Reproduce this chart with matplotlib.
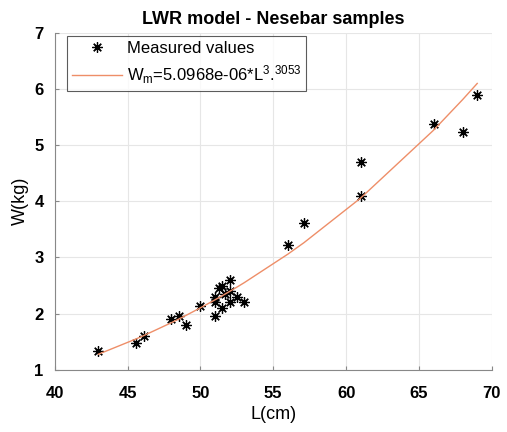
import numpy as np
import matplotlib
matplotlib.use('Agg')
import matplotlib.pyplot as plt

plt.rcParams['font.family'] = ['Liberation Sans', 'DejaVu Sans']
plt.rcParams['mathtext.default'] = 'regular'

length_cm = [43.0, 45.6, 46.1, 48.0, 48.5, 49.0, 50.0, 51.0, 51.0, 51.0,
             51.3, 51.5, 51.5, 51.7, 52.0, 52.0, 52.0, 52.5, 53.0,
             56.0, 57.1, 61.0, 61.0, 66.0, 68.0, 69.0]
weight_kg = [1.33, 1.48, 1.60, 1.90, 1.95, 1.79, 2.13, 1.95, 2.30, 2.20,
             2.45, 2.10, 2.50, 2.35, 2.60, 2.40, 2.20, 2.30, 2.20,
             3.22, 3.61, 4.10, 4.70, 5.38, 5.23, 5.90]

# Fitted model coefficients W = a * L^b
coef_a = 5.0968e-06
coef_b = 3.3053

L_fit = np.array(sorted(set(length_cm)))
W_fit = coef_a * L_fit ** coef_b

fig = plt.figure(figsize=(5.07, 4.32), dpi=100)
ax = fig.add_axes([0.108, 0.144, 0.862, 0.780])

# asterisk marker like MATLAB '*'
ax.plot(length_cm, weight_kg, linestyle='none', marker=(8, 2, 0), color='black',
        markersize=7.5, markeredgewidth=0.9, label='Measured values')
ax.plot(L_fit, W_fit, color='#EE8E68', linewidth=1.0,
        label='W$_m$=5.0968e-06*L$^{3}$.$^{3053}$')

ax.set_xlim(40, 70)
ax.set_ylim(1, 7)
ax.set_xticks(range(40, 71, 5))
ax.set_yticks(range(1, 8))

ax.grid(True, color='#e6e6e6', linewidth=0.8)
ax.set_axisbelow(True)
for side in ['top', 'right']:
    ax.spines[side].set_visible(False)
for side in ['left', 'bottom']:
    ax.spines[side].set_color('#888888')
    ax.spines[side].set_linewidth(0.8)
ax.tick_params(direction='in', length=3, color='#888888', labelsize=12)
ax.tick_params(axis='x', pad=12)
ax.tick_params(axis='y', pad=8)
for lbl in ax.get_xticklabels() + ax.get_yticklabels():
    lbl.set_fontweight('bold')

ax.set_xlabel('L(cm)', fontsize=13, labelpad=3)
ax.set_ylabel('W(kg)', fontsize=13, labelpad=4)
ax.set_title('LWR model - Nesebar samples', fontsize=13, fontweight='bold',
             pad=6)

leg = ax.legend(loc='upper left', bbox_to_anchor=(0.027, 0.99), fontsize=12,
                frameon=True, fancybox=False, edgecolor='#333333',
                borderaxespad=0, handlelength=3.0, handletextpad=0.3,
                borderpad=0.3, labelspacing=0.45)
leg.get_frame().set_linewidth(0.8)

fig.savefig('out.png', dpi=100)
